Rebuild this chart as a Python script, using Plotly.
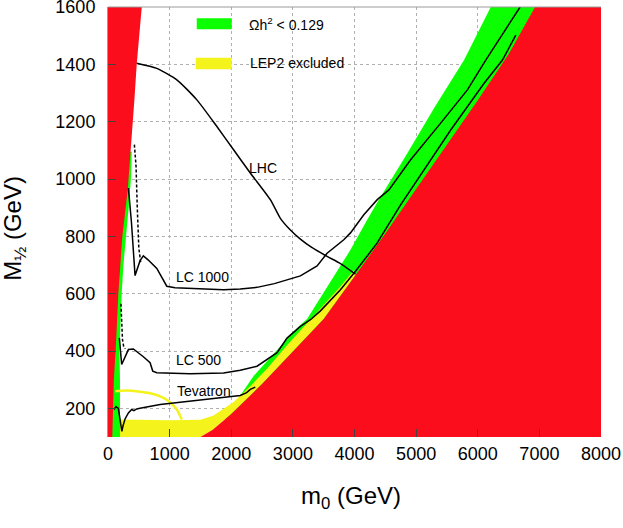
import plotly.graph_objects as go

# ---------------- data (m0, M1/2 in GeV) ----------------
# red excluded region (left wedge)
red_left_m0 = [0, 0, 548, 466, 428, 352, 320, 233, 168, 125, 95, 70]
red_left_m12 = [100, 1600, 1600, 1400, 1276, 1044, 962, 800, 600, 405, 300, 100]

# red excluded region (right, lower boundary edge then corner)
red_right_m0 = [1500, 1700, 2000, 2500, 3000, 3500, 4000, 4500, 5000, 5500, 6000, 6500, 6930, 8000, 8000]
red_right_m12 = [100, 125, 180, 285, 398, 512, 660, 810, 965, 1120, 1275, 1435, 1600, 1600, 100]

# green Omega h^2 < 0.129, left narrow strip
green_left_m0 = [0, 0, 385, 372, 335, 290, 250, 222, 190, 185, 195, 195]
green_left_m12 = [100, 1095, 1095, 1000, 900, 800, 700, 600, 460, 400, 300, 100]

# green band upper-left edge (closed through the lower right)
green_band_m0 = [1900, 2093, 2363, 2743, 3068, 3230, 3393, 3664, 3935, 4206, 4395, 4857, 5300, 5778, 6211, 8000, 8000, 1900]
green_band_m12 = [198, 228, 313, 405, 480, 512, 568, 660, 753, 858, 928, 1090, 1250, 1415, 1600, 1600, 100, 100]

# yellow LEP2 excluded region
yellow_m0 = [0, 0, 500, 1000, 1500, 1712, 2038, 2309, 2580, 2905, 3230, 3500, 3772, 3990, 4020,
             4000, 3500, 3000, 2500, 2000, 1700, 1500]
yellow_m12 = [100, 161, 160, 158, 160, 175, 222, 277, 338, 420, 497, 560, 625, 682, 668,
              660, 512, 398, 285, 180, 125, 100]

# yellow arc (LEP2 line)
lep_arc_m0 = [114, 300, 520, 700, 846, 954, 1050, 1117, 1160, 1198]
lep_arc_m12 = [260, 262, 258, 252, 242, 230, 212, 196, 178, 161]

# LHC reach
lhc_m0 = [466, 791, 1117, 1442, 1767, 2038, 2309, 2634, 2800, 2960, 3122, 3300, 3555, 3772, 4016]
lhc_m12 = [1404, 1386, 1346, 1276, 1183, 1102, 1021, 928, 862, 822, 790, 762, 730, 705, 668]

# LC 1000 reach
lc1000_m0 = [331, 380, 439, 480, 520, 574, 650, 792, 880, 954, 1089, 1333, 1600, 1875, 2146, 2418,
             2700, 2959, 3122, 3393, 3555, 3826, 3935, 4151, 4369, 4558, 4911, 5398, 5832, 6130, 6688]
lc1000_m12 = [968, 850, 663, 690, 715, 732, 718, 688, 655, 626, 621, 619, 616, 614, 616, 622,
              635, 650, 662, 697, 741, 788, 812, 875, 928, 962, 1067, 1195, 1311, 1415, 1600]
lc1000_dash_m0 = [428, 455, 475, 500, 530]
lc1000_dash_m12 = [1120, 1045, 900, 760, 710]

# LC 500 reach
lc500_m0 = [184, 222, 331, 412, 574, 683, 726, 792, 1333, 1875, 2146, 2418, 2743, 2905, 3122, 3285,
            3447, 3664, 3772, 4016, 4369, 4748, 5561, 6103, 6401, 6618]
lc500_m12 = [446, 353, 405, 407, 380, 359, 330, 324, 321, 323, 333, 347, 394, 445, 486, 509,
             540, 591, 614, 678, 777, 910, 1171, 1334, 1415, 1502]
lc500_dash_m0 = [210, 222, 235, 255, 280]
lc500_dash_m12 = [565, 500, 440, 415, 408]

# Tevatron reach
tev_m0 = [98, 130, 168, 190, 210, 225, 245, 277, 331, 385, 420, 466, 520, 629, 846, 1171, 1333,
          1875, 2146, 2250, 2309, 2390]
tev_m12 = [196, 206, 200, 165, 125, 120, 140, 163, 184, 196, 192, 198, 200, 205, 213, 221, 225,
           237, 245, 255, 266, 274]

# curve labels
label_text = ["LHC", "LC 1000", "LC 500", "Tevatron"]
label_m0 = [2520, 1537, 1475, 1550]
label_m12 = [1039, 658, 368, 262]

x_ticks = [0, 1000, 2000, 3000, 4000, 5000, 6000, 7000, 8000]
y_ticks = [200, 400, 600, 800, 1000, 1200, 1400, 1600]

RED = "#FC0D1B"
GREEN = "#0CFF00"
YELLOW = "#F4F41C"
FONT = "Liberation Sans, Arial, Helvetica, sans-serif"

fig = go.Figure()


def area(xs, ys, color):
    fig.add_trace(go.Scatter(x=xs, y=ys, fill="toself", fillcolor=color, mode="lines",
                             line=dict(width=0, color=color), hoverinfo="skip", showlegend=False))


def curve(xs, ys, color="black", width=1.5, dash="solid", shape="linear"):
    fig.add_trace(go.Scatter(x=xs, y=ys, mode="lines",
                             line=dict(color=color, width=width, dash=dash, shape=shape, smoothing=0.6),
                             hoverinfo="skip", showlegend=False))


area(green_band_m0, green_band_m12, GREEN)
area(yellow_m0, yellow_m12, YELLOW)
area(green_left_m0, green_left_m12, GREEN)
area(red_right_m0, red_right_m12, RED)
area(red_left_m0, red_left_m12, RED)

curve(lep_arc_m0, lep_arc_m12, color=YELLOW, width=2.5, shape="spline")
curve(lhc_m0, lhc_m12, shape="spline")
curve(lc1000_m0, lc1000_m12)
curve(lc1000_dash_m0, lc1000_dash_m12, dash="3px,2px")
curve(lc500_m0, lc500_m12)
curve(lc500_dash_m0, lc500_dash_m12, dash="3px,2px")
curve(tev_m0, tev_m12)

for t, xv, yv in zip(label_text, label_m0, label_m12):
    fig.add_annotation(x=xv, y=yv, text=t, showarrow=False, font=dict(size=14, color="black", family=FONT))

# legend boxes
fig.add_shape(type="rect", xref="paper", yref="paper", x0=0.180, x1=0.251, y0=0.948, y1=0.974,
              fillcolor=GREEN, line=dict(width=0))
fig.add_shape(type="rect", xref="paper", yref="paper", x0=0.178, x1=0.251, y0=0.855, y1=0.882,
              fillcolor=YELLOW, line=dict(width=0))
fig.add_annotation(xref="paper", yref="paper", x=0.281, y=0.960, xanchor="left", yanchor="middle",
                   text="Ωh<sup>2</sup> &lt; 0.129", showarrow=False,
                   font=dict(size=14, color="black", family=FONT))
fig.add_annotation(xref="paper", yref="paper", x=0.284, y=0.870, xanchor="left", yanchor="middle",
                   text="LEP2 excluded", showarrow=False, font=dict(size=14, color="black", family=FONT))

# top frame line
fig.add_shape(type="line", xref="paper", yref="paper", x0=0, x1=1, y0=1, y1=1,
              line=dict(color="#9a9a9a", width=1))

# axis titles
fig.add_annotation(xref="paper", yref="paper", x=0.492, y=-0.140, xanchor="center", yanchor="middle",
                   text="m<sub>0</sub> (GeV)", showarrow=False, font=dict(size=24, color="black", family=FONT))
fig.add_annotation(xref="paper", yref="paper", x=-0.19, y=0.485, xanchor="center", yanchor="middle",
                   text="M<sub>½</sub> (GeV)", textangle=-90, showarrow=False,
                   font=dict(size=24, color="black", family=FONT))

fig.update_layout(
    width=623, height=528,
    margin=dict(l=108, r=22, t=7, b=91, autoexpand=False),
    paper_bgcolor="white", plot_bgcolor="white",
    font=dict(family=FONT, color="black", size=18),
    showlegend=False,
    xaxis=dict(range=[0, 8000], tickvals=x_ticks, ticktext=[str(v) for v in x_ticks],
               showgrid=True, gridcolor="#b0b0b0", griddash="dot", gridwidth=1,
               ticks="inside", ticklen=8, tickcolor="#444", tickwidth=1,
               showline=False, zeroline=False, tickfont=dict(size=18), automargin=False,
               ticklabelstandoff=4, ticklabeloverflow="allow"),
    yaxis=dict(range=[100, 1600], tickvals=y_ticks, ticktext=[str(v) for v in y_ticks],
               showgrid=True, gridcolor="#b0b0b0", griddash="dot", gridwidth=1,
               ticks="inside", ticklen=8, tickcolor="#444", tickwidth=1,
               showline=True, linecolor="#9a9a9a", linewidth=1, zeroline=False, automargin=False,
               tickfont=dict(size=18), ticklabelstandoff=8, ticklabeloverflow="allow"),
)

fig.write_html("out.html", config={"displayModeBar": False},
               post_script="document.body.style.margin='0';document.body.style.overflow='hidden';")
